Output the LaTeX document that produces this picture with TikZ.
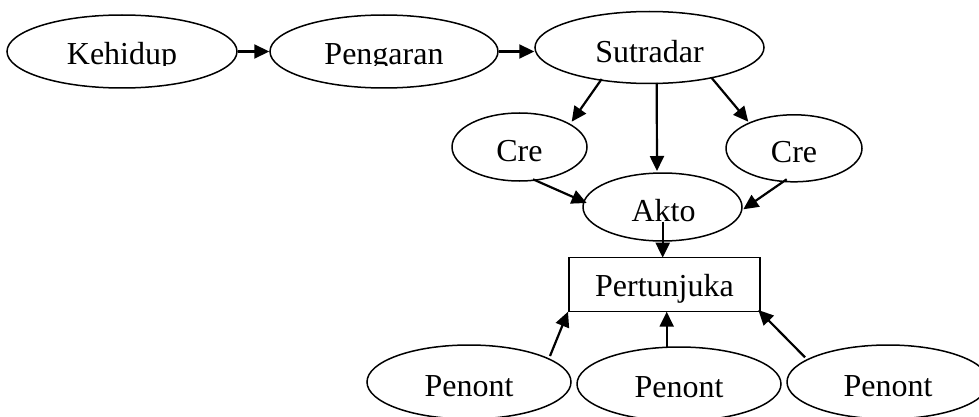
\documentclass[tikz,border=0pt]{standalone}
\usepackage{fontspec}
\setmainfont{Liberation Serif}
\usetikzlibrary{arrows.meta,shapes.geometric}
\tikzset{
  oval/.style={ellipse, draw, line width=1.5pt, inner sep=0pt},
  boxnode/.style={rectangle, draw, line width=1.5pt, inner sep=0pt},
  lbl/.style={inner sep=0pt, font=\fontsize{32}{38}\selectfont},
  conn/.style={line width=2.2pt, -{Triangle[length=15pt,width=14pt]}}
}
% name, x, baseline y, clip y, text
\newcommand\cliplabel[5]{%
  \begin{scope}
    \clip (#2-150,#3-60) rectangle (#2+150,#4);
    \node[lbl, anchor=base] (#1) at (#2,#3) {#5};
  \end{scope}}
\begin{document}
\begin{tikzpicture}[x=1pt,y=-1pt]
\useasboundingbox (0,0) rectangle (979,417);
\clip (0,0) rectangle (979,417);
% shapes
\node[oval, minimum width=230pt, minimum height=73pt] (keh) at (122,51.5) {};
\node[oval, minimum width=228pt, minimum height=73pt] (pen) at (384,51.5) {};
\node[oval, minimum width=229pt, minimum height=72pt] (sut) at (649.5,47.5) {};
\node[oval, minimum width=135pt, minimum height=68pt] (creA) at (519.5,147) {};
\node[oval, minimum width=136pt, minimum height=67pt] (creB) at (794,148.3) {};
\node[oval, minimum width=159pt, minimum height=68pt] (akto) at (662.5,207) {};
\node[boxnode, minimum width=191pt, minimum height=54pt] (pert) at (664.5,284.7) {};
\node[oval, minimum width=204pt, minimum height=74pt] (pnA) at (469,382) {};
\node[oval, minimum width=204pt, minimum height=74pt] (pnB) at (679,384) {};
\node[oval, minimum width=202pt, minimum height=74pt] (pnC) at (888,382) {};
% labels
\cliplabel{kehT}{122}{65}{66}{Kehidup}
\cliplabel{penT}{384}{65}{66}{Pengaran}
\cliplabel{sutT}{649.5}{62.3}{64}{Sutradar}
\cliplabel{creAT}{519.5}{161.7}{163}{Cre}
\cliplabel{creBT}{794}{162.7}{164}{Cre}
\cliplabel{aktoT}{663.5}{221}{222}{Akto}
\cliplabel{pertT}{664.5}{296.7}{302}{Pertunjuka}
\cliplabel{pnAT}{469}{396}{400}{Penont}
\cliplabel{pnBT}{679}{397}{401}{Penont}
\cliplabel{pnCT}{888}{396}{400}{Penont}
% connectors
\draw[conn] (keh.east) -- (pen.west);
\draw[conn] (pen.east) -- (sut.west |- pen.east);
\draw[conn] ([shift={(-47.8,31.5)}]sut.center) -- ([shift={(52.2,-25.3)}]creA.center);
\draw[conn] ([shift={(7.2,35.5)}]sut.center) -- ([shift={(-5.5,-36)}]akto.center);
\draw[conn] ([shift={(62.2,30.5)}]sut.center) -- ([shift={(-45.7,-26.6)}]creB.center);
\draw[conn] ([shift={(13.5,32.3)}]creA.center) -- ([shift={(-75.8,-4)}]akto.center);
\draw[conn] ([shift={(-7.3,31)}]creB.center) -- ([shift={(80.8,2.3)}]akto.center);
\draw[conn] ([shift={(0.2,14.7)}]akto.center) -- ([shift={(-1.8,-27)}]pert.center);
\draw[conn] ([shift={(81,-26)}]pnA.center) -- ([shift={(-96.5,27)}]pert.center);
\draw[conn] ([shift={(-12.3,-37)}]pnB.center) -- ([shift={(2.2,27)}]pert.center);
\draw[conn] ([shift={(-83,-24.7)}]pnC.center) -- ([shift={(93.8,25.3)}]pert.center);
\end{tikzpicture}
\end{document}
